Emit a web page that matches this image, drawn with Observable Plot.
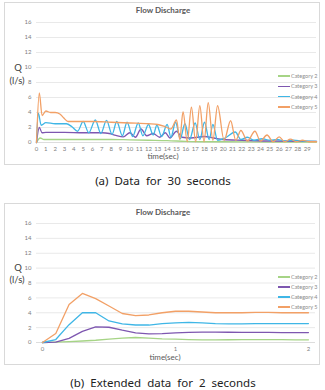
<!DOCTYPE html>
<html>
<head>
<meta charset="utf-8">
<script src="https://cdn.jsdelivr.net/npm/d3@7"></script>
<script src="https://cdn.jsdelivr.net/npm/@observablehq/plot@0.6"></script>
<style>
  html, body { margin: 0; padding: 0; background: #fff; }
  #page { position: relative; width: 325px; height: 390px; overflow: hidden; font-family: Lato, "Liberation Sans", sans-serif; }
  .abs { position: absolute; white-space: nowrap; }
  .box { position: absolute; border: 1px solid #d9d9d9; box-sizing: border-box; pointer-events: none; }
  .ctr { transform: translate(-50%, -50%); }
  .lft { transform: translate(0, -50%); }
  .title { font-size: 8px; font-weight: bold; color: #595959; }
  .qlab { font-size: 9.5px; color: #404040; }
  .xlab { font-size: 8px; color: #595959; }
  .leg { font-size: 5.5px; color: #8c8c8c; }
  .cap { font-family: "Noto Sans", "DejaVu Sans", sans-serif; font-size: 11.5px; color: #222; word-spacing: 3px; }
</style>
</head>
<body>
<div id="page"></div>
<script>
// Series names and colours
const categories = ["Category 2", "Category 3", "Category 4", "Category 5"];
const colors = ["#a6d486", "#7e57b0", "#3fb6e6", "#f2a066"];

// Axis ticks
const qTicks = [0, 2, 4, 6, 8, 10, 12, 14, 16];
const timeTicks30 = d3.range(0, 30);
const timeTicks2 = [0, 1, 2];

// (a) 30 seconds: time (s) and discharge Q (l/s) per category
const tA2 = [0, 0.4, 0.8, 2, 5, 8, 10, 12, 14, 16, 18, 20, 25, 30];
const qA2 = [0, 0.6, 0.4, 0.4, 0.4, 0.4, 0.35, 0.3, 0.25, 0.15, 0.1, 0.1, 0.05, 0.05];

const tA3 = [0, 0.3, 0.6, 1, 3, 5, 7, 7.8, 8.5, 9.3, 10, 10.6, 11.2, 11.8, 12.5, 13.2, 13.8, 14.3, 15, 15.6, 16.5, 18, 19, 20, 22, 25, 30];
const qA3 = [0, 2.0, 1.3, 1.35, 1.35, 1.3, 1.3, 1.2, 0.95, 0.75, 1.3, 0.7, 1.8, 0.9, 1.2, 0.7, 1.3, 0.6, 1.5, 0.7, 0.6, 0.8, 0.6, 0.4, 0.3, 0.2, 0.15];

const tA4 = [0, 0.2, 0.5, 1.0, 2.0, 3.2, 3.8, 4.4, 5.0, 5.6, 6.3, 6.9, 7.5, 8.1, 8.6, 9.2, 9.7, 10.3, 10.9, 11.4, 12.0, 12.5, 12.9, 13.4, 14.0, 14.4, 14.9, 15.4, 15.9, 16.4, 17.0, 17.5, 18.0, 18.5, 18.9, 19.4, 20.2, 21.3, 21.9, 22.6, 23.3, 24.2, 25.0, 25.8, 26.6, 27.5, 28.5, 30];
const qA4 = [0, 3.9, 2.3, 2.65, 2.5, 2.5, 2.1, 1.5, 2.8, 1.3, 3.0, 1.2, 2.95, 1.1, 2.8, 0.9, 2.7, 0.8, 2.6, 0.9, 2.4, 1.0, 2.3, 0.8, 2.4, 0.7, 2.7, 0.5, 2.5, 0.4, 2.6, 0.4, 2.7, 0.4, 2.4, 0.3, 0.6, 1.4, 0.4, 0.7, 0.3, 0.5, 0.3, 0.4, 0.2, 0.3, 0.2, 0.15];

const tA5 = [0, 0.3, 0.6, 1.0, 1.5, 2.0, 2.5, 2.9, 3.4, 4, 6, 8, 10, 12, 13, 13.8, 14.4, 15.0, 15.35, 15.7, 16.15, 16.6, 17.05, 17.5, 17.95, 18.4, 18.9, 19.4, 20.1, 20.8, 21.35, 21.9, 22.6, 23.4, 24.0, 24.7, 25.35, 26.0, 26.6, 27.2, 27.85, 28.5, 29.2, 30];
const qA5 = [0, 6.6, 3.6, 4.2, 4.0, 4.0, 3.8, 3.3, 2.8, 2.8, 2.8, 2.7, 2.6, 2.5, 2.4, 2.1, 1.8, 3.0, 0.4, 4.1, 0.1, 4.7, 0.1, 4.9, 0.1, 5.3, 0.3, 4.9, 0.3, 2.9, 0.3, 1.6, 0.2, 1.5, 0.2, 1.0, 0.1, 0.75, 0.1, 0.45, 0.1, 0.3, 0.1, 0.1];

// (b) first 2 seconds, sampled every 0.1 s
const tB = [0, 0.1, 0.2, 0.3, 0.4, 0.5, 0.6, 0.7, 0.8, 0.9, 1.0, 1.1, 1.2, 1.3, 1.4, 1.5, 1.6, 1.7, 1.8, 1.9, 2.0];
const qB2 = [0, 0.05, 0.12, 0.2, 0.3, 0.45, 0.6, 0.67, 0.6, 0.5, 0.45, 0.4, 0.35, 0.35, 0.37, 0.4, 0.4, 0.4, 0.38, 0.36, 0.36];
const qB3 = [0, 0.05, 0.55, 1.5, 2.1, 2.05, 1.65, 1.3, 1.15, 1.2, 1.3, 1.35, 1.4, 1.4, 1.38, 1.35, 1.35, 1.35, 1.33, 1.33, 1.33];
const qB4 = [0, 0.4, 2.4, 4.0, 4.0, 2.9, 2.5, 2.35, 2.35, 2.55, 2.65, 2.7, 2.65, 2.55, 2.5, 2.5, 2.55, 2.55, 2.55, 2.55, 2.55];
const qB5 = [0, 1.2, 5.1, 6.6, 5.9, 4.9, 3.9, 3.6, 3.7, 4.0, 4.2, 4.2, 4.1, 4.0, 4.0, 4.0, 4.05, 4.05, 4.0, 4.0, 4.0];

// Long-form rows for Plot
const rows = (pairs) => pairs.flatMap(([name, ts, qs]) => ts.map((t, i) => ({series: name, t, q: qs[i]})));
const dataA = rows([[categories[0], tA2, qA2], [categories[1], tA3, qA3], [categories[2], tA4, qA4], [categories[3], tA5, qA5]]);
const dataB = rows([[categories[0], tB, qB2], [categories[1], tB, qB3], [categories[2], tB, qB4], [categories[3], tB, qB5]]);

const page = document.getElementById("page");

function addText(text, x, y, cls, anchor = "ctr") {
  const el = document.createElement("div");
  el.className = `abs ${anchor} ${cls}`;
  el.style.left = x + "px";
  el.style.top = y + "px";
  el.textContent = text;
  page.appendChild(el);
}

function addBox(x, y, w, h) {
  const el = document.createElement("div");
  el.className = "box";
  Object.assign(el.style, {left: x + "px", top: y + "px", width: w + "px", height: h + "px"});
  page.appendChild(el);
}

function chart({data, xDomain, xTicks, height, zeroY, marginLeft, marginRight, curve}) {
  return Plot.plot({
    width: 316,
    height,
    marginTop: 20,
    marginBottom: height - zeroY,
    marginLeft,
    marginRight,
    style: {fontFamily: "Lato, 'Liberation Sans', sans-serif", fontSize: "6px", color: "#808080", background: "transparent"},
    x: {domain: xDomain},
    y: {domain: [0, 16]},
    color: {domain: categories, range: colors},
    marks: [
      Plot.gridY(qTicks, {stroke: "#e3e3e3", strokeOpacity: 1, strokeWidth: 0.8}),
      Plot.axisY(qTicks, {tickSize: 0, tickPadding: 5, label: null}),
      Plot.axisX(xTicks, {tickSize: 0, tickPadding: 4, label: null, tickFormat: "d"}),
      Plot.ruleY([0], {stroke: "#d9d9d9", strokeWidth: 0.8}),
      Plot.line(data, {x: "t", y: "q", z: "series", stroke: "series", strokeWidth: 1.3, curve})
    ]
  });
}

function placeSvg(svg, x, y) {
  svg.style.position = "absolute";
  svg.style.left = x + "px";
  svg.style.top = y + "px";
  page.appendChild(svg);
}

function legend(y0, step) {
  categories.forEach((name, i) => {
    const y = y0 + i * step;
    const ln = document.createElement("div");
    ln.className = "abs";
    Object.assign(ln.style, {left: "278px", top: (y - 0.6) + "px", width: "12px", height: "1.3px", background: colors[i]});
    page.appendChild(ln);
    addText(name, 291, y, "leg", "lft");
  });
}

// (a) Data for 30 seconds
placeSvg(chart({data: dataA, xDomain: [0, 30], xTicks: timeTicks30, height: 163, zeroY: 140, marginLeft: 32, marginRight: 4, curve: "monotone-x"}), 4, 2);
addBox(4, 2, 316, 163);
addText("Flow Discharge", 163, 10, "title");
addText("Q", 18, 67, "qlab");
addText("(l/s)", 17, 80, "qlab");
addText("time(sec)", 163, 156, "xlab");
legend(76, 10.3);
addText("(a) Data for 30 seconds", 163, 180, "cap");

// (b) Extended data for 2 seconds
placeSvg(chart({data: dataB, xDomain: [-0.045, 2.053], xTicks: timeTicks2, height: 162, zeroY: 139, marginLeft: 32, marginRight: 5, curve: "linear"}), 4, 203);
addBox(4, 203, 316, 162);
addText("Flow Discharge", 163, 212, "title");
addText("Q", 18, 267, "qlab");
addText("(l/s)", 17, 279, "qlab");
addText("time(sec)", 165, 357, "xlab");
legend(277, 10);
addText("(b) Extended data for 2 seconds", 163, 382, "cap");
</script>
</body>
</html>
